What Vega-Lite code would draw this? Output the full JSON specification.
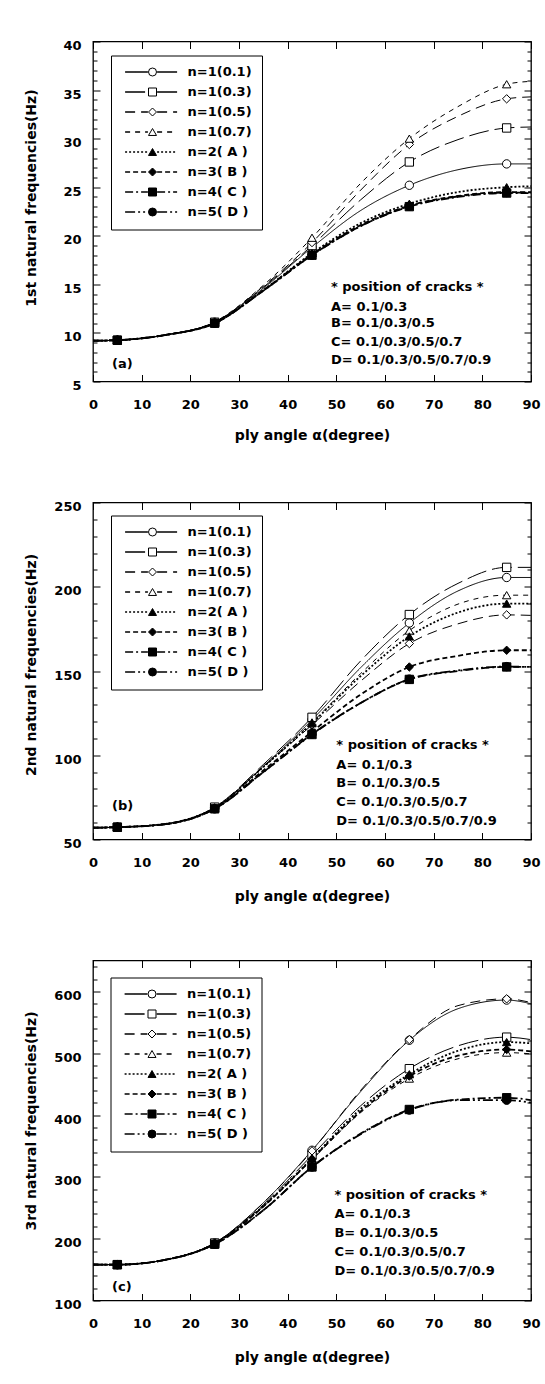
{
"$schema": "https://vega.github.io/schema/vega-lite/v6.json",
"background": "white",
"padding": {"left": 23, "top": 38.5, "right": 5, "bottom": 5},
"config": {
  "font": "DejaVu Sans",
  "view": {"stroke": "black", "strokeWidth": 1.3},
  "axis": {"grid": false, "domain": false, "tickColor": "black", "tickWidth": 1, "labelColor": "black", "titleColor": "black", "labelFont": "DejaVu Sans", "titleFont": "DejaVu Sans", "labelFontWeight": "bold", "titleFontWeight": "bold", "labelFontSize": 13, "titleFontSize": 14, "labelOverlap": false, "labelFlush": false}
},
"datasets": {
"d1": [
{"s":"n=1(0.1)","a":0,"f":9.2},{"s":"n=1(0.1)","a":5,"f":9.25},{"s":"n=1(0.1)","a":15,"f":9.8},{"s":"n=1(0.1)","a":25,"f":11.1},{"s":"n=1(0.1)","a":35,"f":14.6},{"s":"n=1(0.1)","a":45,"f":18.8},{"s":"n=1(0.1)","a":55,"f":22.6},{"s":"n=1(0.1)","a":65,"f":25.2},{"s":"n=1(0.1)","a":75,"f":26.8},{"s":"n=1(0.1)","a":85,"f":27.4},{"s":"n=1(0.1)","a":90,"f":27.4},
{"s":"n=1(0.3)","a":0,"f":9.2},{"s":"n=1(0.3)","a":5,"f":9.25},{"s":"n=1(0.3)","a":15,"f":9.8},{"s":"n=1(0.3)","a":25,"f":11.1},{"s":"n=1(0.3)","a":35,"f":14.7},{"s":"n=1(0.3)","a":45,"f":19.0},{"s":"n=1(0.3)","a":55,"f":23.7},{"s":"n=1(0.3)","a":65,"f":27.6},{"s":"n=1(0.3)","a":75,"f":29.9},{"s":"n=1(0.3)","a":85,"f":31.1},{"s":"n=1(0.3)","a":90,"f":31.2},
{"s":"n=1(0.5)","a":0,"f":9.2},{"s":"n=1(0.5)","a":5,"f":9.25},{"s":"n=1(0.5)","a":15,"f":9.8},{"s":"n=1(0.5)","a":25,"f":11.1},{"s":"n=1(0.5)","a":35,"f":14.8},{"s":"n=1(0.5)","a":45,"f":19.3},{"s":"n=1(0.5)","a":55,"f":24.7},{"s":"n=1(0.5)","a":65,"f":29.4},{"s":"n=1(0.5)","a":75,"f":32.3},{"s":"n=1(0.5)","a":85,"f":34.1},{"s":"n=1(0.5)","a":90,"f":34.3},
{"s":"n=1(0.7)","a":0,"f":9.2},{"s":"n=1(0.7)","a":5,"f":9.25},{"s":"n=1(0.7)","a":15,"f":9.8},{"s":"n=1(0.7)","a":25,"f":11.15},{"s":"n=1(0.7)","a":35,"f":14.9},{"s":"n=1(0.7)","a":45,"f":19.8},{"s":"n=1(0.7)","a":55,"f":25.4},{"s":"n=1(0.7)","a":65,"f":30.0},{"s":"n=1(0.7)","a":75,"f":33.3},{"s":"n=1(0.7)","a":85,"f":35.6},{"s":"n=1(0.7)","a":90,"f":35.9},
{"s":"n=2( A )","a":0,"f":9.2},{"s":"n=2( A )","a":5,"f":9.25},{"s":"n=2( A )","a":15,"f":9.8},{"s":"n=2( A )","a":25,"f":11.0},{"s":"n=2( A )","a":35,"f":14.4},{"s":"n=2( A )","a":45,"f":18.2},{"s":"n=2( A )","a":55,"f":21.3},{"s":"n=2( A )","a":65,"f":23.3},{"s":"n=2( A )","a":75,"f":24.5},{"s":"n=2( A )","a":85,"f":25.0},{"s":"n=2( A )","a":90,"f":25.1},
{"s":"n=3( B )","a":0,"f":9.2},{"s":"n=3( B )","a":5,"f":9.25},{"s":"n=3( B )","a":15,"f":9.8},{"s":"n=3( B )","a":25,"f":11.0},{"s":"n=3( B )","a":35,"f":14.4},{"s":"n=3( B )","a":45,"f":18.1},{"s":"n=3( B )","a":55,"f":21.1},{"s":"n=3( B )","a":65,"f":23.1},{"s":"n=3( B )","a":75,"f":24.1},{"s":"n=3( B )","a":85,"f":24.5},{"s":"n=3( B )","a":90,"f":24.5},
{"s":"n=4( C )","a":0,"f":9.2},{"s":"n=4( C )","a":5,"f":9.25},{"s":"n=4( C )","a":15,"f":9.8},{"s":"n=4( C )","a":25,"f":11.0},{"s":"n=4( C )","a":35,"f":14.35},{"s":"n=4( C )","a":45,"f":18.0},{"s":"n=4( C )","a":55,"f":21.0},{"s":"n=4( C )","a":65,"f":23.0},{"s":"n=4( C )","a":75,"f":24.0},{"s":"n=4( C )","a":85,"f":24.4},{"s":"n=4( C )","a":90,"f":24.4},
{"s":"n=5( D )","a":0,"f":9.2},{"s":"n=5( D )","a":5,"f":9.25},{"s":"n=5( D )","a":15,"f":9.8},{"s":"n=5( D )","a":25,"f":11.0},{"s":"n=5( D )","a":35,"f":14.35},{"s":"n=5( D )","a":45,"f":18.0},{"s":"n=5( D )","a":55,"f":21.0},{"s":"n=5( D )","a":65,"f":23.05},{"s":"n=5( D )","a":75,"f":24.05},{"s":"n=5( D )","a":85,"f":24.45},{"s":"n=5( D )","a":90,"f":24.45}
],
"d2": [
{"s":"n=1(0.1)","a":0,"f":57},{"s":"n=1(0.1)","a":5,"f":57.3},{"s":"n=1(0.1)","a":15,"f":59.3},{"s":"n=1(0.1)","a":25,"f":68.8},{"s":"n=1(0.1)","a":35,"f":93.5},{"s":"n=1(0.1)","a":45,"f":121},{"s":"n=1(0.1)","a":55,"f":152},{"s":"n=1(0.1)","a":65,"f":178.5},{"s":"n=1(0.1)","a":75,"f":197.5},{"s":"n=1(0.1)","a":85,"f":205.5},{"s":"n=1(0.1)","a":90,"f":205.5},
{"s":"n=1(0.3)","a":0,"f":57},{"s":"n=1(0.3)","a":5,"f":57.3},{"s":"n=1(0.3)","a":15,"f":59.3},{"s":"n=1(0.3)","a":25,"f":69.2},{"s":"n=1(0.3)","a":35,"f":94.5},{"s":"n=1(0.3)","a":45,"f":122.5},{"s":"n=1(0.3)","a":55,"f":156},{"s":"n=1(0.3)","a":65,"f":183.5},{"s":"n=1(0.3)","a":75,"f":202},{"s":"n=1(0.3)","a":85,"f":211.5},{"s":"n=1(0.3)","a":90,"f":211.5},
{"s":"n=1(0.5)","a":0,"f":57},{"s":"n=1(0.5)","a":5,"f":57.3},{"s":"n=1(0.5)","a":15,"f":59.3},{"s":"n=1(0.5)","a":25,"f":68.8},{"s":"n=1(0.5)","a":35,"f":93},{"s":"n=1(0.5)","a":45,"f":118},{"s":"n=1(0.5)","a":55,"f":144},{"s":"n=1(0.5)","a":65,"f":166.3},{"s":"n=1(0.5)","a":75,"f":178},{"s":"n=1(0.5)","a":85,"f":183.3},{"s":"n=1(0.5)","a":90,"f":183},
{"s":"n=1(0.7)","a":0,"f":57},{"s":"n=1(0.7)","a":5,"f":57.3},{"s":"n=1(0.7)","a":15,"f":59.3},{"s":"n=1(0.7)","a":25,"f":68.8},{"s":"n=1(0.7)","a":35,"f":93.5},{"s":"n=1(0.7)","a":45,"f":119.5},{"s":"n=1(0.7)","a":55,"f":148.5},{"s":"n=1(0.7)","a":65,"f":174},{"s":"n=1(0.7)","a":75,"f":189.7},{"s":"n=1(0.7)","a":85,"f":195},{"s":"n=1(0.7)","a":90,"f":195},
{"s":"n=2( A )","a":0,"f":57},{"s":"n=2( A )","a":5,"f":57.3},{"s":"n=2( A )","a":15,"f":59.3},{"s":"n=2( A )","a":25,"f":68.8},{"s":"n=2( A )","a":35,"f":93},{"s":"n=2( A )","a":45,"f":119},{"s":"n=2( A )","a":55,"f":147},{"s":"n=2( A )","a":65,"f":170.5},{"s":"n=2( A )","a":75,"f":184.7},{"s":"n=2( A )","a":85,"f":190},{"s":"n=2( A )","a":90,"f":190},
{"s":"n=3( B )","a":0,"f":57},{"s":"n=3( B )","a":5,"f":57.3},{"s":"n=3( B )","a":15,"f":59.2},{"s":"n=3( B )","a":25,"f":68.4},{"s":"n=3( B )","a":35,"f":91},{"s":"n=3( B )","a":45,"f":114},{"s":"n=3( B )","a":55,"f":136},{"s":"n=3( B )","a":65,"f":152.4},{"s":"n=3( B )","a":75,"f":159},{"s":"n=3( B )","a":85,"f":162.3},{"s":"n=3( B )","a":90,"f":162.3},
{"s":"n=4( C )","a":0,"f":57},{"s":"n=4( C )","a":5,"f":57.3},{"s":"n=4( C )","a":15,"f":59.1},{"s":"n=4( C )","a":25,"f":68.2},{"s":"n=4( C )","a":35,"f":90},{"s":"n=4( C )","a":45,"f":112.3},{"s":"n=4( C )","a":55,"f":131},{"s":"n=4( C )","a":65,"f":145},{"s":"n=4( C )","a":75,"f":150},{"s":"n=4( C )","a":85,"f":152.4},{"s":"n=4( C )","a":90,"f":152.4},
{"s":"n=5( D )","a":0,"f":57},{"s":"n=5( D )","a":5,"f":57.3},{"s":"n=5( D )","a":15,"f":59.1},{"s":"n=5( D )","a":25,"f":68.2},{"s":"n=5( D )","a":35,"f":90},{"s":"n=5( D )","a":45,"f":112.5},{"s":"n=5( D )","a":55,"f":131},{"s":"n=5( D )","a":65,"f":145.2},{"s":"n=5( D )","a":75,"f":150.3},{"s":"n=5( D )","a":85,"f":152.6},{"s":"n=5( D )","a":90,"f":152.4}
],
"d3": [
{"s":"n=1(0.1)","a":0,"f":158},{"s":"n=1(0.1)","a":5,"f":158},{"s":"n=1(0.1)","a":15,"f":166},{"s":"n=1(0.1)","a":25,"f":193},{"s":"n=1(0.1)","a":35,"f":258},{"s":"n=1(0.1)","a":45,"f":343},{"s":"n=1(0.1)","a":55,"f":438},{"s":"n=1(0.1)","a":65,"f":521},{"s":"n=1(0.1)","a":75,"f":572},{"s":"n=1(0.1)","a":85,"f":586},{"s":"n=1(0.1)","a":90,"f":580},
{"s":"n=1(0.3)","a":0,"f":158},{"s":"n=1(0.3)","a":5,"f":158},{"s":"n=1(0.3)","a":15,"f":166},{"s":"n=1(0.3)","a":25,"f":193},{"s":"n=1(0.3)","a":35,"f":255},{"s":"n=1(0.3)","a":45,"f":335},{"s":"n=1(0.3)","a":55,"f":415},{"s":"n=1(0.3)","a":65,"f":475},{"s":"n=1(0.3)","a":75,"f":512},{"s":"n=1(0.3)","a":85,"f":526},{"s":"n=1(0.3)","a":90,"f":522},
{"s":"n=1(0.5)","a":0,"f":158},{"s":"n=1(0.5)","a":5,"f":158},{"s":"n=1(0.5)","a":15,"f":166},{"s":"n=1(0.5)","a":25,"f":193},{"s":"n=1(0.5)","a":35,"f":258},{"s":"n=1(0.5)","a":45,"f":342},{"s":"n=1(0.5)","a":55,"f":440},{"s":"n=1(0.5)","a":65,"f":522},{"s":"n=1(0.5)","a":75,"f":577},{"s":"n=1(0.5)","a":85,"f":588},{"s":"n=1(0.5)","a":90,"f":582},
{"s":"n=1(0.7)","a":0,"f":158},{"s":"n=1(0.7)","a":5,"f":158},{"s":"n=1(0.7)","a":15,"f":166},{"s":"n=1(0.7)","a":25,"f":192},{"s":"n=1(0.7)","a":35,"f":252},{"s":"n=1(0.7)","a":45,"f":328},{"s":"n=1(0.7)","a":55,"f":404},{"s":"n=1(0.7)","a":65,"f":459},{"s":"n=1(0.7)","a":75,"f":491},{"s":"n=1(0.7)","a":85,"f":501},{"s":"n=1(0.7)","a":90,"f":499},
{"s":"n=2( A )","a":0,"f":158},{"s":"n=2( A )","a":5,"f":158},{"s":"n=2( A )","a":15,"f":166},{"s":"n=2( A )","a":25,"f":192},{"s":"n=2( A )","a":35,"f":253},{"s":"n=2( A )","a":45,"f":330},{"s":"n=2( A )","a":55,"f":410},{"s":"n=2( A )","a":65,"f":466},{"s":"n=2( A )","a":75,"f":504},{"s":"n=2( A )","a":85,"f":518},{"s":"n=2( A )","a":90,"f":516},
{"s":"n=3( B )","a":0,"f":158},{"s":"n=3( B )","a":5,"f":158},{"s":"n=3( B )","a":15,"f":166},{"s":"n=3( B )","a":25,"f":192},{"s":"n=3( B )","a":35,"f":252},{"s":"n=3( B )","a":45,"f":329},{"s":"n=3( B )","a":55,"f":406},{"s":"n=3( B )","a":65,"f":463},{"s":"n=3( B )","a":75,"f":496},{"s":"n=3( B )","a":85,"f":506},{"s":"n=3( B )","a":90,"f":503},
{"s":"n=4( C )","a":0,"f":158},{"s":"n=4( C )","a":5,"f":158},{"s":"n=4( C )","a":15,"f":166},{"s":"n=4( C )","a":25,"f":191},{"s":"n=4( C )","a":35,"f":246},{"s":"n=4( C )","a":45,"f":316},{"s":"n=4( C )","a":55,"f":370},{"s":"n=4( C )","a":65,"f":409},{"s":"n=4( C )","a":75,"f":425},{"s":"n=4( C )","a":85,"f":428},{"s":"n=4( C )","a":90,"f":424},
{"s":"n=5( D )","a":0,"f":158},{"s":"n=5( D )","a":5,"f":158},{"s":"n=5( D )","a":15,"f":166},{"s":"n=5( D )","a":25,"f":191},{"s":"n=5( D )","a":35,"f":246},{"s":"n=5( D )","a":45,"f":316},{"s":"n=5( D )","a":55,"f":369},{"s":"n=5( D )","a":65,"f":408},{"s":"n=5( D )","a":75,"f":424},{"s":"n=5( D )","a":85,"f":424},{"s":"n=5( D )","a":90,"f":420}
],
"t1": [
{"a":3.9,"f":6.8,"t":"(a)"},{"a":48.9,"f":14.7,"t":"* position of cracks *"},{"a":48.9,"f":12.7,"t":"A= 0.1/0.3"},{"a":48.9,"f":11.0,"t":"B= 0.1/0.3/0.5"},{"a":48.9,"f":9.05,"t":"C= 0.1/0.3/0.5/0.7"},{"a":48.9,"f":7.2,"t":"D= 0.1/0.3/0.5/0.7/0.9"}
],
"t2": [
{"a":3.9,"f":70,"t":"(b)"},{"a":50,"f":105.8,"t":"* position of cracks *"},{"a":50,"f":94.4,"t":"A= 0.1/0.3"},{"a":50,"f":83.5,"t":"B= 0.1/0.3/0.5"},{"a":50,"f":72.2,"t":"C= 0.1/0.3/0.5/0.7"},{"a":50,"f":61.1,"t":"D= 0.1/0.3/0.5/0.7/0.9"}
],
"t3": [
{"a":3.9,"f":121.4,"t":"(c)"},{"a":49.6,"f":270.9,"t":"* position of cracks *"},{"a":49.6,"f":240,"t":"A= 0.1/0.3"},{"a":49.6,"f":209.3,"t":"B= 0.1/0.3/0.5"},{"a":49.6,"f":179,"t":"C= 0.1/0.3/0.5/0.7"},{"a":49.6,"f":148,"t":"D= 0.1/0.3/0.5/0.7/0.9"}
]
},
"spacing": 121,
"bounds": "flush",
"resolve": {"scale": {"x": "independent", "y": "independent", "strokeDash": "independent", "shape": "independent", "fill": "independent", "stroke": "independent"}},
"vconcat": [
{
 "width": 438, "height": 340,
 "resolve": {"axis": {"x": "independent", "y": "independent"}},
 "layer": [
  {"data": {"name": "d1"},
   "transform": [{"filter": {"field": "s", "oneOf": ["n=1(0.1)","n=1(0.3)","n=1(0.5)","n=1(0.7)"]}}],
   "mark": {"type": "line", "interpolate": "monotone", "color": "black", "strokeWidth": 1},
   "encoding": {
    "x": {"field": "a", "type": "quantitative", "scale": {"domain": [0, 90], "nice": false, "zero": false}, "axis": {"orient": "bottom", "values": [0,10,20,30,40,50,60,70,80,90], "tickSize": -7, "labelPadding": 24, "title": "ply angle  α(degree)", "titleY": 54, "titleBaseline": "middle"}},
    "y": {"field": "f", "type": "quantitative", "scale": {"domain": [5, 40], "nice": false, "zero": false}, "axis": {"orient": "left", "values": [5,10,15,20,25,30,35,40], "tickSize": -7, "labelPadding": 19, "labelOffset": 4, "labelBaseline": "middle", "title": "1st natural frequencies(Hz)", "titleX": -62, "titleY": 156, "titleBaseline": "middle"}},
    "strokeDash": {"field": "s", "type": "nominal", "scale": {"domain": ["n=1(0.1)","n=1(0.3)","n=1(0.5)","n=1(0.7)","n=2( A )","n=3( B )","n=4( C )","n=5( D )"], "range": [[1,0],[20,6],[10,6],[5,5],[2,2],[5,3],[8,3,2,3],[10,3,2,3,2,3]]},
      "legend": {"orient": "none", "legendX": 18, "legendY": 14, "title": null, "symbolType": "M-0.6,0H5.1M7.4,0H12.4", "symbolSize": 64, "symbolStrokeColor": "black", "symbolFillColor": "transparent", "symbolStrokeWidth": 1.3, "labelFont": "DejaVu Sans", "labelFontSize": 13, "labelFontWeight": "bold", "labelColor": "black", "labelOffset": 53.5, "padding": 10, "rowPadding": 6, "strokeColor": "black"}}
   }},
  {"data": {"name": "d1"},
   "transform": [{"filter": {"field": "s", "oneOf": ["n=2( A )","n=3( B )","n=4( C )","n=5( D )"]}}],
   "mark": {"type": "line", "interpolate": "monotone", "color": "black", "strokeWidth": 1.8},
   "encoding": {
    "x": {"field": "a", "type": "quantitative", "scale": {"domain": [0, 90], "nice": false, "zero": false}, "axis": {"orient": "top", "values": [0,10,20,30,40,50,60,70,80,90], "tickSize": -7, "labels": false, "title": null}},
    "y": {"field": "f", "type": "quantitative", "scale": {"domain": [5, 40], "nice": false, "zero": false}, "axis": {"orient": "right", "values": [5,10,15,20,25,30,35,40], "tickSize": -7, "labels": false, "title": null}},
    "strokeDash": {"field": "s", "type": "nominal", "scale": {"domain": ["n=1(0.1)","n=1(0.3)","n=1(0.5)","n=1(0.7)","n=2( A )","n=3( B )","n=4( C )","n=5( D )"], "range": [[1,0],[20,6],[10,6],[5,5],[2,2],[5,3],[8,3,2,3],[10,3,2,3,2,3]]},
      "legend": {"orient": "none", "legendX": 18, "legendY": 14, "title": null, "symbolType": "M-0.6,0H5.1M7.4,0H12.4", "symbolSize": 64, "symbolStrokeColor": "black", "symbolFillColor": "transparent", "symbolStrokeWidth": 1.3, "labelFont": "DejaVu Sans", "labelFontSize": 13, "labelFontWeight": "bold", "labelColor": "black", "labelOffset": 53.5, "padding": 10, "rowPadding": 6, "strokeColor": "black"}}
   }},
  {"data": {"name": "d1"},
   "transform": [{"filter": {"field": "a", "oneOf": [5, 25, 45, 65, 85]}}],
   "mark": {"type": "point", "filled": false, "strokeWidth": 1, "size": 70, "opacity": 1},
   "encoding": {
    "x": {"field": "a", "type": "quantitative", "scale": {"domain": [0, 90], "nice": false, "zero": false}, "axis": null},
    "y": {"field": "f", "type": "quantitative", "scale": {"domain": [5, 40], "nice": false, "zero": false}, "axis": {"orient": "left", "values": [6,7,8,9,11,12,13,14,16,17,18,19,21,22,23,24,26,27,28,29,31,32,33,34,36,37,38,39], "tickSize": -4, "labels": false, "title": null}},
    "shape": {"field": "s", "type": "nominal", "scale": {"range": ["circle","square","diamond","triangle-up","triangle-up","diamond","square","circle"]},
      "legend": {"orient": "none", "legendX": 18, "legendY": 14, "title": null, "symbolSize": 64, "symbolOffset": 25, "symbolStrokeWidth": 1, "labelFont": "DejaVu Sans", "labelFontSize": 13, "labelFontWeight": "bold", "labelExpr": "''", "labelOffset": 53.5, "padding": 10, "rowPadding": 6}},
    "fill": {"field": "s", "type": "nominal", "scale": {"range": ["white","white","white","white","black","black","black","black"]},
      "legend": {"orient": "none", "legendX": 18, "legendY": 14, "title": null, "symbolSize": 64, "symbolOffset": 25, "symbolStrokeWidth": 1, "labelFont": "DejaVu Sans", "labelFontSize": 13, "labelFontWeight": "bold", "labelExpr": "''", "labelOffset": 53.5, "padding": 10, "rowPadding": 6}},
    "stroke": {"field": "s", "type": "nominal", "scale": {"range": ["black","black","black","black","black","black","black","black"]},
      "legend": {"orient": "none", "legendX": 18, "legendY": 14, "title": null, "symbolSize": 64, "symbolOffset": 25, "symbolStrokeWidth": 1, "labelFont": "DejaVu Sans", "labelFontSize": 13, "labelFontWeight": "bold", "labelExpr": "''", "labelOffset": 53.5, "padding": 10, "rowPadding": 6}}
   }},
  {"data": {"name": "t1"},
   "mark": {"type": "text", "align": "left", "baseline": "middle", "font": "DejaVu Sans", "fontSize": 13, "fontWeight": "bold", "color": "black"},
   "encoding": {
    "x": {"field": "a", "type": "quantitative", "scale": {"domain": [0, 90], "nice": false, "zero": false}, "axis": null},
    "y": {"field": "f", "type": "quantitative", "scale": {"domain": [5, 40], "nice": false, "zero": false}, "axis": {"orient": "right", "values": [6,7,8,9,11,12,13,14,16,17,18,19,21,22,23,24,26,27,28,29,31,32,33,34,36,37,38,39], "tickSize": -4, "labels": false, "title": null}},
    "text": {"field": "t", "type": "nominal"}
   }}
 ]
},
{
 "width": 438, "height": 337,
 "resolve": {"axis": {"x": "independent", "y": "independent"}},
 "layer": [
  {"data": {"name": "d2"},
   "transform": [{"filter": {"field": "s", "oneOf": ["n=1(0.1)","n=1(0.3)","n=1(0.5)","n=1(0.7)"]}}],
   "mark": {"type": "line", "interpolate": "monotone", "color": "black", "strokeWidth": 1},
   "encoding": {
    "x": {"field": "a", "type": "quantitative", "scale": {"domain": [0, 90], "nice": false, "zero": false}, "axis": {"orient": "bottom", "values": [0,10,20,30,40,50,60,70,80,90], "tickSize": -7, "labelPadding": 24, "title": "ply angle  α(degree)", "titleY": 57, "titleBaseline": "middle"}},
    "y": {"field": "f", "type": "quantitative", "scale": {"domain": [50, 250], "nice": false, "zero": false}, "axis": {"orient": "left", "values": [50,100,150,200,250], "tickSize": -7, "labelPadding": 19, "labelOffset": 4, "labelBaseline": "middle", "title": "2nd natural frequencies(Hz)", "titleX": -62, "titleY": 162, "titleBaseline": "middle"}},
    "strokeDash": {"field": "s", "type": "nominal", "scale": {"domain": ["n=1(0.1)","n=1(0.3)","n=1(0.5)","n=1(0.7)","n=2( A )","n=3( B )","n=4( C )","n=5( D )"], "range": [[1,0],[20,6],[10,6],[5,5],[2,2],[5,3],[8,3,2,3],[10,3,2,3,2,3]]},
      "legend": {"orient": "none", "legendX": 18, "legendY": 13, "title": null, "symbolType": "M-0.6,0H5.1M7.4,0H12.4", "symbolSize": 64, "symbolStrokeColor": "black", "symbolFillColor": "transparent", "symbolStrokeWidth": 1.3, "labelFont": "DejaVu Sans", "labelFontSize": 13, "labelFontWeight": "bold", "labelColor": "black", "labelOffset": 53.5, "padding": 10, "rowPadding": 6, "strokeColor": "black"}}
   }},
  {"data": {"name": "d2"},
   "transform": [{"filter": {"field": "s", "oneOf": ["n=2( A )","n=3( B )","n=4( C )","n=5( D )"]}}],
   "mark": {"type": "line", "interpolate": "monotone", "color": "black", "strokeWidth": 1.8},
   "encoding": {
    "x": {"field": "a", "type": "quantitative", "scale": {"domain": [0, 90], "nice": false, "zero": false}, "axis": {"orient": "top", "values": [0,10,20,30,40,50,60,70,80,90], "tickSize": -7, "labels": false, "title": null}},
    "y": {"field": "f", "type": "quantitative", "scale": {"domain": [50, 250], "nice": false, "zero": false}, "axis": {"orient": "right", "values": [50,100,150,200,250], "tickSize": -7, "labels": false, "title": null}},
    "strokeDash": {"field": "s", "type": "nominal", "scale": {"domain": ["n=1(0.1)","n=1(0.3)","n=1(0.5)","n=1(0.7)","n=2( A )","n=3( B )","n=4( C )","n=5( D )"], "range": [[1,0],[20,6],[10,6],[5,5],[2,2],[5,3],[8,3,2,3],[10,3,2,3,2,3]]},
      "legend": {"orient": "none", "legendX": 18, "legendY": 13, "title": null, "symbolType": "M-0.6,0H5.1M7.4,0H12.4", "symbolSize": 64, "symbolStrokeColor": "black", "symbolFillColor": "transparent", "symbolStrokeWidth": 1.3, "labelFont": "DejaVu Sans", "labelFontSize": 13, "labelFontWeight": "bold", "labelColor": "black", "labelOffset": 53.5, "padding": 10, "rowPadding": 6, "strokeColor": "black"}}
   }},
  {"data": {"name": "d2"},
   "transform": [{"filter": {"field": "a", "oneOf": [5, 25, 45, 65, 85]}}],
   "mark": {"type": "point", "filled": false, "strokeWidth": 1, "size": 70, "opacity": 1},
   "encoding": {
    "x": {"field": "a", "type": "quantitative", "scale": {"domain": [0, 90], "nice": false, "zero": false}, "axis": null},
    "y": {"field": "f", "type": "quantitative", "scale": {"domain": [50, 250], "nice": false, "zero": false}, "axis": {"orient": "left", "values": [60,70,80,90,110,120,130,140,160,170,180,190,210,220,230,240], "tickSize": -4, "labels": false, "title": null}},
    "shape": {"field": "s", "type": "nominal", "scale": {"range": ["circle","square","diamond","triangle-up","triangle-up","diamond","square","circle"]},
      "legend": {"orient": "none", "legendX": 18, "legendY": 13, "title": null, "symbolSize": 64, "symbolOffset": 25, "symbolStrokeWidth": 1, "labelFont": "DejaVu Sans", "labelFontSize": 13, "labelFontWeight": "bold", "labelExpr": "''", "labelOffset": 53.5, "padding": 10, "rowPadding": 6}},
    "fill": {"field": "s", "type": "nominal", "scale": {"range": ["white","white","white","white","black","black","black","black"]},
      "legend": {"orient": "none", "legendX": 18, "legendY": 13, "title": null, "symbolSize": 64, "symbolOffset": 25, "symbolStrokeWidth": 1, "labelFont": "DejaVu Sans", "labelFontSize": 13, "labelFontWeight": "bold", "labelExpr": "''", "labelOffset": 53.5, "padding": 10, "rowPadding": 6}},
    "stroke": {"field": "s", "type": "nominal", "scale": {"range": ["black","black","black","black","black","black","black","black"]},
      "legend": {"orient": "none", "legendX": 18, "legendY": 13, "title": null, "symbolSize": 64, "symbolOffset": 25, "symbolStrokeWidth": 1, "labelFont": "DejaVu Sans", "labelFontSize": 13, "labelFontWeight": "bold", "labelExpr": "''", "labelOffset": 53.5, "padding": 10, "rowPadding": 6}}
   }},
  {"data": {"name": "t2"},
   "mark": {"type": "text", "align": "left", "baseline": "middle", "font": "DejaVu Sans", "fontSize": 13, "fontWeight": "bold", "color": "black"},
   "encoding": {
    "x": {"field": "a", "type": "quantitative", "scale": {"domain": [0, 90], "nice": false, "zero": false}, "axis": null},
    "y": {"field": "f", "type": "quantitative", "scale": {"domain": [50, 250], "nice": false, "zero": false}, "axis": {"orient": "right", "values": [60,70,80,90,110,120,130,140,160,170,180,190,210,220,230,240], "tickSize": -4, "labels": false, "title": null}},
    "text": {"field": "t", "type": "nominal"}
   }}
 ]
},
{
 "width": 438, "height": 340,
 "resolve": {"axis": {"x": "independent", "y": "independent"}},
 "layer": [
  {"data": {"name": "d3"},
   "transform": [{"filter": {"field": "s", "oneOf": ["n=1(0.1)","n=1(0.3)","n=1(0.5)","n=1(0.7)"]}}],
   "mark": {"type": "line", "interpolate": "monotone", "color": "black", "strokeWidth": 1},
   "encoding": {
    "x": {"field": "a", "type": "quantitative", "scale": {"domain": [0, 90], "nice": false, "zero": false}, "axis": {"orient": "bottom", "values": [0,10,20,30,40,50,60,70,80,90], "tickSize": -7, "labelPadding": 24, "title": "ply angle  α(degree)", "titleY": 57, "titleBaseline": "middle"}},
    "y": {"field": "f", "type": "quantitative", "scale": {"domain": [100, 650], "nice": false, "zero": false}, "axis": {"orient": "left", "values": [100,200,300,400,500,600], "tickSize": -7, "labelPadding": 19, "labelOffset": 4, "labelBaseline": "middle", "title": "3rd natural frequencies(Hz)", "titleX": -62, "titleY": 160, "titleBaseline": "middle"}},
    "strokeDash": {"field": "s", "type": "nominal", "scale": {"domain": ["n=1(0.1)","n=1(0.3)","n=1(0.5)","n=1(0.7)","n=2( A )","n=3( B )","n=4( C )","n=5( D )"], "range": [[1,0],[20,6],[10,6],[5,5],[2,2],[5,3],[8,3,2,3],[10,3,2,3,2,3]]},
      "legend": {"orient": "none", "legendX": 17.5, "legendY": 17, "title": null, "symbolType": "M-0.6,0H5.1M7.4,0H12.4", "symbolSize": 64, "symbolStrokeColor": "black", "symbolFillColor": "transparent", "symbolStrokeWidth": 1.3, "labelFont": "DejaVu Sans", "labelFontSize": 13, "labelFontWeight": "bold", "labelColor": "black", "labelOffset": 53.5, "padding": 10, "rowPadding": 6, "strokeColor": "black"}}
   }},
  {"data": {"name": "d3"},
   "transform": [{"filter": {"field": "s", "oneOf": ["n=2( A )","n=3( B )","n=4( C )","n=5( D )"]}}],
   "mark": {"type": "line", "interpolate": "monotone", "color": "black", "strokeWidth": 1.8},
   "encoding": {
    "x": {"field": "a", "type": "quantitative", "scale": {"domain": [0, 90], "nice": false, "zero": false}, "axis": {"orient": "top", "values": [0,10,20,30,40,50,60,70,80,90], "tickSize": -7, "labels": false, "title": null}},
    "y": {"field": "f", "type": "quantitative", "scale": {"domain": [100, 650], "nice": false, "zero": false}, "axis": {"orient": "right", "values": [100,200,300,400,500,600], "tickSize": -7, "labels": false, "title": null}},
    "strokeDash": {"field": "s", "type": "nominal", "scale": {"domain": ["n=1(0.1)","n=1(0.3)","n=1(0.5)","n=1(0.7)","n=2( A )","n=3( B )","n=4( C )","n=5( D )"], "range": [[1,0],[20,6],[10,6],[5,5],[2,2],[5,3],[8,3,2,3],[10,3,2,3,2,3]]},
      "legend": {"orient": "none", "legendX": 17.5, "legendY": 17, "title": null, "symbolType": "M-0.6,0H5.1M7.4,0H12.4", "symbolSize": 64, "symbolStrokeColor": "black", "symbolFillColor": "transparent", "symbolStrokeWidth": 1.3, "labelFont": "DejaVu Sans", "labelFontSize": 13, "labelFontWeight": "bold", "labelColor": "black", "labelOffset": 53.5, "padding": 10, "rowPadding": 6, "strokeColor": "black"}}
   }},
  {"data": {"name": "d3"},
   "transform": [{"filter": {"field": "a", "oneOf": [5, 25, 45, 65, 85]}}],
   "mark": {"type": "point", "filled": false, "strokeWidth": 1, "size": 70, "opacity": 1},
   "encoding": {
    "x": {"field": "a", "type": "quantitative", "scale": {"domain": [0, 90], "nice": false, "zero": false}, "axis": null},
    "y": {"field": "f", "type": "quantitative", "scale": {"domain": [100, 650], "nice": false, "zero": false}, "axis": {"orient": "left", "values": [120,140,160,180,220,240,260,280,320,340,360,380,420,440,460,480,520,540,560,580,620,640], "tickSize": -4, "labels": false, "title": null}},
    "shape": {"field": "s", "type": "nominal", "scale": {"range": ["circle","square","diamond","triangle-up","triangle-up","diamond","square","circle"]},
      "legend": {"orient": "none", "legendX": 17.5, "legendY": 17, "title": null, "symbolSize": 64, "symbolOffset": 25, "symbolStrokeWidth": 1, "labelFont": "DejaVu Sans", "labelFontSize": 13, "labelFontWeight": "bold", "labelExpr": "''", "labelOffset": 53.5, "padding": 10, "rowPadding": 6}},
    "fill": {"field": "s", "type": "nominal", "scale": {"range": ["white","white","white","white","black","black","black","black"]},
      "legend": {"orient": "none", "legendX": 17.5, "legendY": 17, "title": null, "symbolSize": 64, "symbolOffset": 25, "symbolStrokeWidth": 1, "labelFont": "DejaVu Sans", "labelFontSize": 13, "labelFontWeight": "bold", "labelExpr": "''", "labelOffset": 53.5, "padding": 10, "rowPadding": 6}},
    "stroke": {"field": "s", "type": "nominal", "scale": {"range": ["black","black","black","black","black","black","black","black"]},
      "legend": {"orient": "none", "legendX": 17.5, "legendY": 17, "title": null, "symbolSize": 64, "symbolOffset": 25, "symbolStrokeWidth": 1, "labelFont": "DejaVu Sans", "labelFontSize": 13, "labelFontWeight": "bold", "labelExpr": "''", "labelOffset": 53.5, "padding": 10, "rowPadding": 6}}
   }},
  {"data": {"name": "t3"},
   "mark": {"type": "text", "align": "left", "baseline": "middle", "font": "DejaVu Sans", "fontSize": 13, "fontWeight": "bold", "color": "black"},
   "encoding": {
    "x": {"field": "a", "type": "quantitative", "scale": {"domain": [0, 90], "nice": false, "zero": false}, "axis": null},
    "y": {"field": "f", "type": "quantitative", "scale": {"domain": [100, 650], "nice": false, "zero": false}, "axis": {"orient": "right", "values": [120,140,160,180,220,240,260,280,320,340,360,380,420,440,460,480,520,540,560,580,620,640], "tickSize": -4, "labels": false, "title": null}},
    "text": {"field": "t", "type": "nominal"}
   }}
 ]
}
]
}
